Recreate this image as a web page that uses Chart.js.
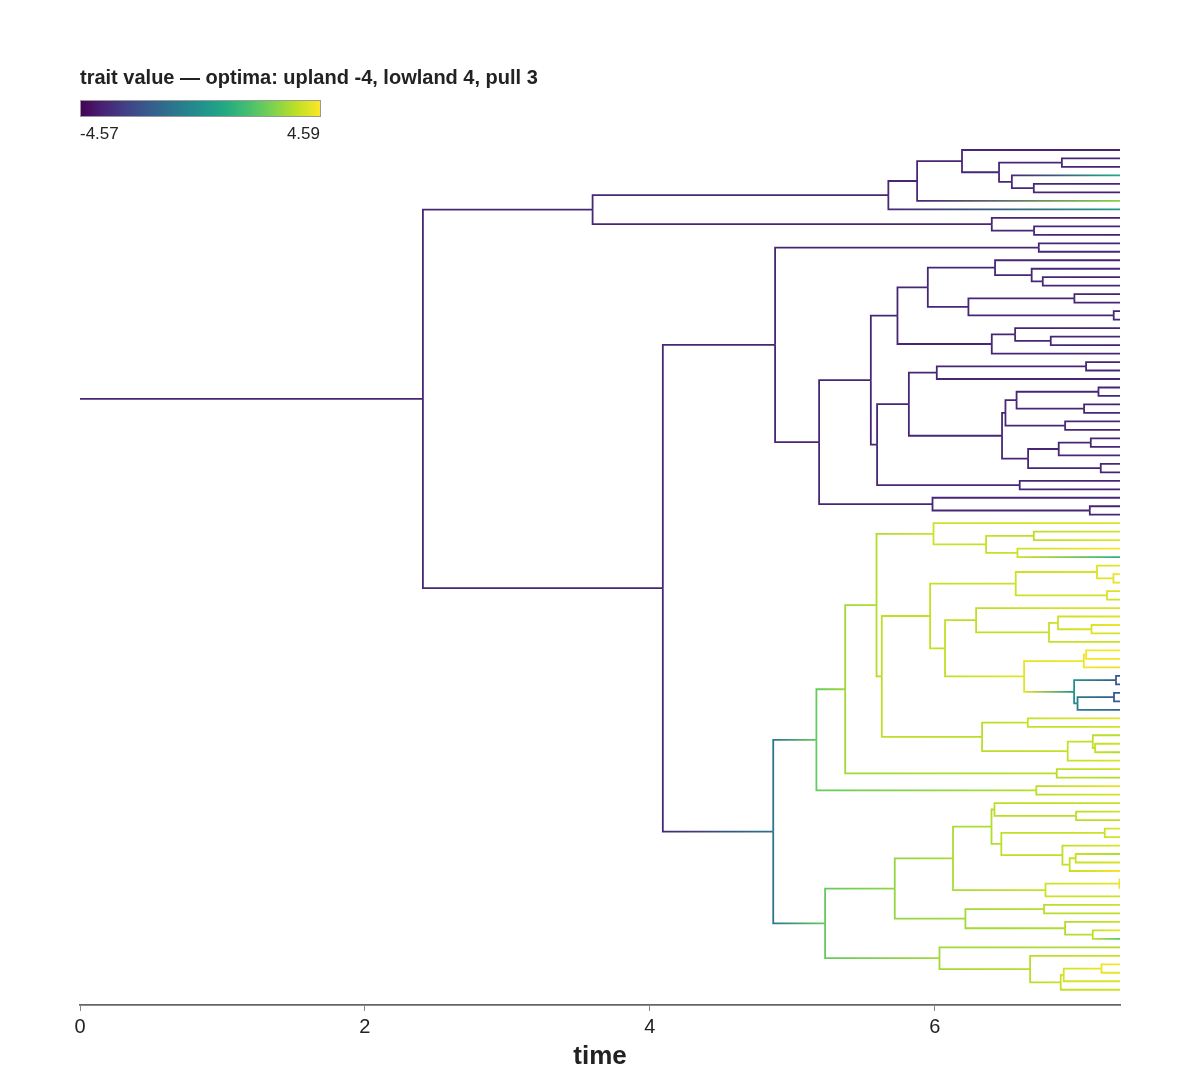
<!DOCTYPE html>
<html lang="en">
<head>
<meta charset="UTF-8" />
<title>trait tree</title>
<script src="https://cdn.jsdelivr.net/npm/chart.js@4.4.1/dist/chart.umd.min.js"></script>
<style>
  html, body { margin: 0; padding: 0; background: #fff; }
</style>
</head>
<body>
<canvas id="tree" width="1200" height="1070"></canvas>
<script>
  // tree in preorder: parent index, node time, trait value
  const parentIdx = [
    -1, 0, 1, 2, 3, 4, 5, 5, 7, 8, 8, 7, 11, 11, 13, 13, 4, 3, 2, 18,
    18, 20, 20, 1, 23, 24, 25, 25, 24, 28, 29, 30, 31, 32, 32, 34, 34, 36, 36, 31,
    39, 40, 40, 39, 43, 43, 30, 46, 47, 47, 49, 49, 46, 29, 53, 54, 55, 56, 56, 55,
    54, 60, 61, 62, 63, 63, 62, 66, 66, 61, 69, 69, 60, 72, 73, 74, 74, 73, 72, 78,
    78, 53, 81, 81, 28, 84, 84, 86, 86, 23, 89, 90, 91, 92, 93, 93, 95, 96, 96, 95,
    99, 99, 92, 102, 103, 104, 105, 105, 107, 107, 104, 110, 110, 103, 113, 114, 114, 116, 117, 117,
    119, 119, 116, 113, 123, 124, 125, 125, 124, 123, 129, 130, 130, 129, 133, 134, 134, 133, 102, 138,
    139, 139, 138, 142, 143, 143, 145, 145, 142, 91, 149, 149, 90, 152, 152, 89, 155, 156, 157, 158,
    159, 159, 161, 161, 158, 164, 165, 165, 164, 168, 168, 170, 171, 171, 170, 157, 175, 176, 176, 175,
    156, 180, 181, 181, 180, 184, 184, 186, 186, 155, 189, 189, 191, 191, 193, 194, 195, 195, 194, 193
  ];
  const nodeTime = [
    0, 2.407, 3.598, 5.674, 5.876, 6.191, 7.3, 6.451, 6.892, 7.3, 7.3, 6.541, 7.3, 6.695, 7.3, 7.3, 7.3, 7.3, 6.4, 7.3,
    6.697, 7.3, 7.3, 4.091, 4.879, 6.73, 7.3, 7.3, 5.188, 5.551, 5.738, 5.951, 6.423, 7.3, 6.68, 7.3, 6.758, 7.3, 7.3, 6.236,
    6.98, 7.3, 7.3, 7.256, 7.3, 7.3, 6.4, 6.564, 7.3, 6.814, 7.3, 7.3, 7.3, 5.595, 5.818, 6.014, 7.062, 7.3, 7.3, 7.3,
    6.472, 6.496, 6.574, 7.149, 7.3, 7.3, 7.048, 7.3, 7.3, 6.915, 7.3, 7.3, 6.655, 6.87, 7.095, 7.3, 7.3, 7.3, 7.165, 7.3,
    7.3, 6.596, 7.3, 7.3, 5.984, 7.3, 7.088, 7.3, 7.3, 4.866, 5.169, 5.371, 5.591, 5.991, 7.3, 6.36, 6.695, 7.3, 7.3, 6.58,
    7.3, 7.3, 5.628, 5.967, 6.568, 7.139, 7.3, 7.254, 7.3, 7.3, 7.209, 7.3, 7.3, 6.072, 6.29, 7.3, 6.802, 6.865, 7.3, 7.1,
    7.3, 7.3, 7.3, 6.627, 7.046, 7.062, 7.3, 7.3, 7.3, 6.978, 7.272, 7.3, 7.3, 7.002, 7.258, 7.3, 7.3, 7.3, 6.332, 6.653,
    7.3, 7.3, 6.933, 7.109, 7.3, 7.125, 7.3, 7.3, 7.3, 6.856, 7.3, 7.3, 6.713, 7.3, 7.3, 5.23, 5.719, 6.128, 6.398, 6.419,
    7.3, 6.992, 7.3, 7.3, 6.467, 7.193, 7.3, 7.3, 6.896, 7.3, 6.947, 6.989, 7.3, 7.3, 7.3, 6.777, 7.296, 7.3, 7.3, 7.3,
    6.215, 6.767, 7.3, 7.3, 6.915, 7.3, 7.109, 7.3, 7.3, 6.033, 7.3, 6.669, 7.3, 6.884, 6.905, 7.17, 7.3, 7.3, 7.3, 7.3
  ];
  const traitVal = [
    -3.6, -3.6, -3.6, -3.6, -3.6, -3.6, -3.7, -3.6, -3.6, -3.5, -3.7, -3.5, 1.0, -3.6, -3.6, -3.8, 2.9, 0.3, -3.6, -3.7,
    -3.6, -3.6, -3.8, -3.6, -3.6, -3.6, -3.7, -3.6, -3.6, -3.6, -3.6, -3.6, -3.6, -3.7, -3.6, -3.5, -3.6, -3.7, -3.6, -3.6,
    -3.6, -3.8, -3.6, -3.6, -3.7, -3.6, -3.6, -3.6, -3.7, -3.6, -3.6, -3.8, -3.6, -3.6, -3.6, -3.6, -3.6, -3.7, -3.5, -3.6,
    -3.6, -3.6, -3.6, -3.6, -3.7, -3.6, -3.6, -3.8, -3.6, -3.6, -3.6, -3.7, -3.6, -3.6, -3.6, -3.7, -3.6, -3.5, -3.6, -3.6,
    -3.7, -3.6, -3.6, -3.8, -3.6, -3.6, -3.6, -3.7, -3.6, -1.0, 2.4, 3.3, 3.5, 3.9, 4.1, 3.8, 3.7, 4.0, 4.2, 3.9,
    4.5, 1.3, 3.7, 3.8, 3.9, 4.1, 4.2, 4.2, 4.55, 4.3, 4.0, 4.2, 3.9, 3.7, 3.7, 4.1, 3.8, 3.9, 4.2, 4.1,
    4.4, 4.0, 3.8, 4.2, 4.4, 4.5, 4.59, 4.4, 4.2, 0.0, -2.0, -2.2, -2.0, -0.8, -2.0, -2.2, -2.0, -1.6, 3.6, 3.8,
    4.2, 3.9, 3.8, 3.7, 3.6, 3.8, 3.9, 3.5, 4.1, 3.6, 3.9, 3.5, 3.6, 4.3, 4.0, 2.4, 3.1, 3.4, 3.5, 3.6,
    3.8, 3.6, 3.9, 3.7, 3.7, 3.9, 4.2, 4.0, 3.7, 4.1, 3.8, 3.8, 3.5, 4.1, 4.5, 3.9, 4.3, 4.5, 4.2, 3.9,
    3.3, 3.6, 3.9, 3.7, 3.5, 3.8, 3.7, 4.3, 2.2, 3.3, 3.5, 3.6, 3.9, 3.8, 4.0, 4.3, 4.55, 4.3, 4.1, 3.9
  ];
  const tickValues = [0, 2, 4, 6];
  const traitMin = -4.57;
  const traitMax = 4.59;
  const titleText = "trait value \u2014 optima: upland -4, lowland 4, pull 3";

  const viridisStops = ["#440154", "#482475", "#414487", "#355f8d", "#2a788e",
    "#21918c", "#22a884", "#44bf70", "#7ad151", "#bddf26", "#fde725"];

  function hexToRgb(h) {
    return [parseInt(h.slice(1, 3), 16), parseInt(h.slice(3, 5), 16), parseInt(h.slice(5, 7), 16)];
  }
  const stopRgb = viridisStops.map(hexToRgb);

  function viridis(v) {
    let t = (v - traitMin) / (traitMax - traitMin);
    t = Math.max(0, Math.min(1, t));
    const pos = t * (stopRgb.length - 1);
    const i = Math.min(Math.floor(pos), stopRgb.length - 2);
    const f = pos - i;
    const a = stopRgb[i], b = stopRgb[i + 1];
    const c = a.map((x, k) => Math.round(x + (b[k] - x) * f));
    return "rgb(" + c.join(",") + ")";
  }

  // y position: tips in order, internal nodes halfway between first and last child
  const n = parentIdx.length;
  const children = Array.from({ length: n }, () => []);
  for (let i = 1; i < n; i++) children[parentIdx[i]].push(i);
  const nodeY = new Array(n);
  let tipCount = 0;
  for (let i = 0; i < n; i++) {
    if (children[i].length === 0) nodeY[i] = tipCount++;
  }
  for (let i = n - 1; i >= 0; i--) {
    const ch = children[i];
    if (ch.length > 0) nodeY[i] = (nodeY[ch[0]] + nodeY[ch[ch.length - 1]]) / 2;
  }

  function branchColor(p, c) {
    return function (ctx) {
      const chart = ctx.chart;
      const c0 = viridis(traitVal[p]);
      const c1 = viridis(traitVal[c]);
      const xs = chart.scales && chart.scales.x;
      if (!chart.chartArea || !xs) return c1;
      const x0 = xs.getPixelForValue(nodeTime[p]);
      const x1 = xs.getPixelForValue(nodeTime[c]);
      if (!(x1 - x0 > 0.5)) return c0;
      const g = chart.ctx.createLinearGradient(x0, 0, x1, 0);
      g.addColorStop(0, c0);
      g.addColorStop(1, c1);
      return g;
    };
  }

  const datasets = [];
  for (let i = 1; i < n; i++) {
    const p = parentIdx[i];
    datasets.push({
      data: [
        { x: nodeTime[p], y: nodeY[p] },
        { x: nodeTime[p], y: nodeY[i] },
        { x: nodeTime[i], y: nodeY[i] }
      ],
      borderColor: branchColor(p, i),
      borderWidth: 1.8,
      borderJoinStyle: "miter",
      pointRadius: 0,
      fill: false,
      tension: 0
    });
  }

  const headerPlugin = {
    id: "header",
    afterDraw(chart) {
      const ctx = chart.ctx;
      ctx.save();
      ctx.fillStyle = "#222";
      ctx.textBaseline = "alphabetic";
      ctx.textAlign = "left";
      ctx.font = "bold 20px 'Liberation Sans', Arial, sans-serif";
      ctx.fillText(titleText, 80, 84);

      const g = ctx.createLinearGradient(80, 0, 320, 0);
      viridisStops.forEach((c, i) => g.addColorStop(i / (viridisStops.length - 1), c));
      ctx.fillStyle = g;
      ctx.fillRect(80, 100, 240, 16);
      ctx.strokeStyle = "#9a9a9a";
      ctx.lineWidth = 1;
      ctx.strokeRect(80.5, 100.5, 240, 16);

      ctx.fillStyle = "#222";
      ctx.font = "17px 'Liberation Sans', Arial, sans-serif";
      ctx.fillText(traitMin.toFixed(2), 80, 139);
      ctx.textAlign = "right";
      ctx.fillText(traitMax.toFixed(2), 320, 139);
      ctx.restore();
    }
  };

  new Chart(document.getElementById("tree"), {
    type: "line",
    data: { datasets: datasets },
    plugins: [headerPlugin],
    options: {
      responsive: false,
      animation: false,
      events: [],
      layout: { padding: { left: 80, right: 80, top: 141.5, bottom: 0 } },
      plugins: {
        legend: { display: false },
        tooltip: { enabled: false },
        title: { display: false }
      },
      scales: {
        x: {
          type: "linear",
          min: 0,
          max: 7.3,
          afterBuildTicks: (s) => { s.ticks = tickValues.map((v) => ({ value: v })); },
          ticks: {
            autoSkip: false,
            maxRotation: 0,
            padding: 4,
            color: "#222",
            font: { size: 20, family: "'Liberation Sans', Arial, sans-serif" }
          },
          grid: { drawOnChartArea: false, drawTicks: true, tickLength: 6, color: "#888" },
          border: { display: true, color: "#666", width: 1.8 },
          title: {
            display: true,
            text: "time",
            color: "#222",
            font: { size: 26, weight: "bold", lineHeight: 1, family: "'Liberation Sans', Arial, sans-serif" },
            padding: { top: 1, bottom: 0 }
          }
        },
        y: {
          type: "linear",
          display: false,
          reverse: true,
          min: -1,
          max: 100.8
        }
      }
    }
  });
</script>
</body>
</html>
